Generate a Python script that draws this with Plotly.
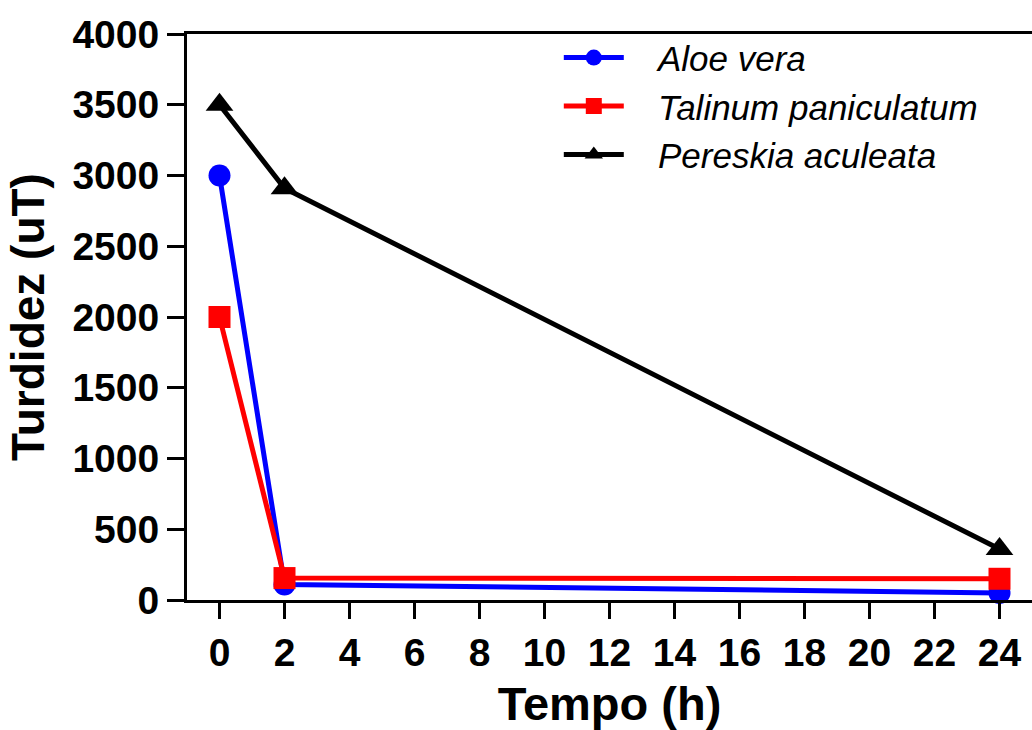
import plotly.graph_objects as go

tempo = [0, 2, 24]
aloe_vera = [3000, 110, 50]
talinum = [2000, 155, 150]
pereskia = [3500, 2910, 360]

x_ticks = list(range(0, 25, 2))
y_ticks = list(range(0, 4001, 500))

FONT = "Liberation Sans, Arial, sans-serif"
PAD = "\u00a0\u00a0\u00a0"

fig = go.Figure()
series = [
    ("Aloe vera", aloe_vera, "#0000FF", "circle", 22),
    ("Talinum paniculatum", talinum, "#FF0000", "square", 22),
    ("Pereskia aculeata", pereskia, "#000000", "triangle-up", 24),
]
for name, vals, color, sym, size in series:
    fig.add_trace(go.Scatter(
        x=tempo, y=vals, name=PAD + name, mode="lines+markers",
        line=dict(color=color, width=5),
        marker=dict(color=color, symbol=sym, size=size),
        cliponaxis=False,
    ))

fig.update_layout(
    width=1032, height=730,
    margin=dict(l=187, r=0, t=34, b=130),
    plot_bgcolor="white", paper_bgcolor="white",
    font=dict(family=FONT, color="black"),
    showlegend=True,
    legend=dict(
        x=0.44, y=1.01, xanchor="left", yanchor="top",
        font=dict(family=FONT, size=35, style="italic", color="black"),
        bgcolor="rgba(0,0,0,0)", itemwidth=60,
        tracegroupgap=0,
    ),
    xaxis=dict(
        range=[-1, 25], tickvals=x_ticks, ticktext=[str(v) for v in x_ticks],
        showline=True, linecolor="black", linewidth=3, mirror=True,
        ticks="outside", ticklen=16, tickwidth=3, tickcolor="black",
        showgrid=False, zeroline=False,
        tickfont=dict(family=FONT, size=39, weight="bold"),
        title=dict(text="<b>Tempo (h)</b>", font=dict(family=FONT, size=47), standoff=15),
    ),
    yaxis=dict(
        range=[0, 4000], tickvals=y_ticks, ticktext=[str(v) for v in y_ticks],
        showline=True, linecolor="black", linewidth=3,
        ticks="outside", ticklen=17, tickwidth=3, tickcolor="black",
        showgrid=False, zeroline=False,
        tickfont=dict(family=FONT, size=39, weight="bold"),
        title=dict(text="<b>Turdidez (uT)</b>", font=dict(family=FONT, size=46), standoff=14),
    ),
)

fig.write_html("out.html")
